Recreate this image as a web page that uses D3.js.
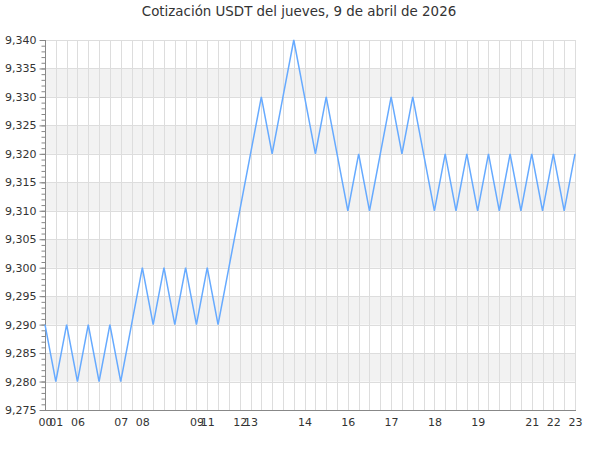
<!DOCTYPE html>
<html><head><meta charset="utf-8">
<script src="https://cdn.jsdelivr.net/npm/d3@7"></script>
<style>body{margin:0;background:#fff}svg{display:block}</style>
</head><body>
<svg id="c" width="600" height="450"></svg>
<script>
const title = "Cotización USDT del jueves, 9 de abril de 2026";
const values = [9.290,9.280,9.290,9.280,9.290,9.280,9.290,9.280,9.290,9.300,
  9.290,9.300,9.290,9.300,9.290,9.300,9.290,9.300,9.310,9.320,
  9.330,9.320,9.330,9.340,9.330,9.320,9.330,9.320,9.310,9.320,
  9.310,9.320,9.330,9.320,9.330,9.320,9.310,9.320,9.310,9.320,
  9.310,9.320,9.310,9.320,9.310,9.320,9.310,9.320,9.310,9.320];
const tickIndex = [0,1,3,7,9,14,15,18,19,24,28,32,36,40,45,47,49];
const tickLabels = ["00","01","06","07","08","09","11","12","13","14","16","17","18","19","21","22","23"];
const yMin = 9.275, yMax = 9.340, yStep = 0.005, yMinor = 0.001;

const svg = d3.select("#c");
const m = {l:45, r:575, t:40, b:410};
const x = d3.scaleLinear().domain([0, values.length-1]).range([m.l, m.r]);
const y = d3.scaleLinear().domain([yMin, yMax]).range([m.b, m.t]);
const fmt = v => d3.format(".3f")(v).replace(".", ",");
const majors = d3.range(0, Math.round((yMax-yMin)/yStep)+1).map(i => +(yMin + i*yStep).toFixed(3));
const minors = d3.range(0, Math.round((yMax-yMin)/yMinor)+1).map(i => +(yMin + i*yMinor).toFixed(3));

// bands
const bands = majors.slice(0,-1).filter(v => Math.round(v*1000) % 10 === 0);
svg.append("g").selectAll("rect").data(bands).join("rect")
  .attr("x", m.l).attr("width", m.r - m.l)
  .attr("y", d => y(d + yStep)).attr("height", d => y(d) - y(d + yStep))
  .attr("fill", "#f2f2f2");

// grid
const g = svg.append("g").attr("stroke", "#dddddd").attr("stroke-width", 1);
g.selectAll("line.h").data(majors).join("line").attr("class","h")
  .attr("x1", m.l).attr("x2", m.r + 0.5)
  .attr("y1", d => Math.round(y(d)) + 0.5).attr("y2", d => Math.round(y(d)) + 0.5);
g.selectAll("line.v").data(d3.range(values.length)).join("line").attr("class","v")
  .attr("x1", d => Math.round(x(d)) + 0.5).attr("x2", d => Math.round(x(d)) + 0.5)
  .attr("y1", m.t).attr("y2", m.b);

// y axis
const yAxis = d3.axisLeft(y).tickValues(majors).tickFormat(fmt).tickSize(6).tickPadding(3);
const ya = svg.append("g").attr("transform", `translate(${m.l + 0.5},0)`).call(yAxis);
ya.select(".domain").remove();
ya.selectAll(".tick line").attr("stroke", "#888");
ya.selectAll("text").attr("font-family", "DejaVu Sans").attr("font-size", 11).attr("fill", "#333");
const ym = svg.append("g").attr("transform", `translate(${m.l + 0.5},0)`)
  .call(d3.axisLeft(y).tickValues(minors).tickFormat("").tickSize(4));
ym.select(".domain").remove();
ym.selectAll(".tick line").attr("stroke", "#888");
svg.append("line").attr("x1", m.l + 0.5).attr("x2", m.l + 0.5).attr("y1", m.t).attr("y2", m.b + 0.5).attr("stroke", "#888");

// x axis
const xAxis = d3.axisBottom(x).tickValues(tickIndex).tickFormat((d,i) => tickLabels[i]).tickSize(0).tickPadding(8);
const xa = svg.append("g").attr("transform", `translate(0,${m.b + 0.5})`).call(xAxis);
xa.select(".domain").attr("stroke", "#888").attr("d", `M${m.l},0H${m.r + 1}`);
xa.selectAll("text").attr("font-family", "DejaVu Sans").attr("font-size", 11).attr("fill", "#333");

// line
svg.append("path").datum(values)
  .attr("fill", "none").attr("stroke", "#66aaff").attr("stroke-width", 1.5)
  .attr("stroke-linejoin", "miter")
  .attr("d", d3.line().x((d,i) => x(i)).y(d => y(d)));

// title
svg.append("text").attr("x", 299).attr("y", 16).attr("text-anchor", "middle")
  .attr("font-family", "DejaVu Sans").attr("font-size", 13.4).attr("fill", "#333").text(title);
</script>
</body></html>
